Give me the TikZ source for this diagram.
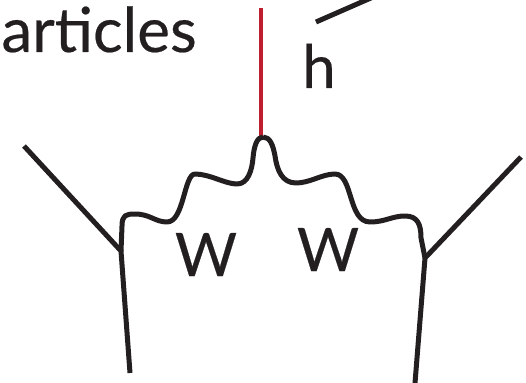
\documentclass[tikz,border=0pt]{standalone}
\usepackage{fontspec}
\setmainfont{Lato}[FakeBold=0.35]
\definecolor{ink}{HTML}{231F20}
\definecolor{hred}{HTML}{BE1E2D}
\begin{document}
\begin{tikzpicture}[x=1pt,y=-1pt,
  fermion/.style={draw=ink,line width=5pt},
  boson/.style={draw=ink,line width=5pt,line join=round},
  higgs/.style={draw=hred,line width=4.5pt},
  lbl/.style={inner sep=0pt,text=ink,font=\fontsize{60}{60}\selectfont}]
\useasboundingbox (0,0) rectangle (526,382);
\clip (0,0) rectangle (526,382);
% coordinates
\coordinate (vL) at (121,251);
\coordinate (vR) at (425,258);
\coordinate (vH) at (263,137);
\coordinate (hTop) at (261,8);
\coordinate (hBot) at (261,138);
\coordinate (qL1) at (24,146);
\coordinate (qL2) at (130,373);
\coordinate (qR1) at (521,157);
\coordinate (qR2) at (415,383);
\coordinate (tA) at (316,22);
\coordinate (tB) at (380,-6);
% text
\node[lbl,anchor=base east,font=\fontsize{62}{62}\selectfont] (title) at (197,52) {articles};
\node[lbl,anchor=base] (hlab) at (319,88) {h};
\node[lbl,anchor=base] (w1) at (206,276) {W};
\node[lbl,anchor=base] (w2) at (328,271) {W};
% fermion lines
\draw[fermion] (qL1) -- (vL) -- (qL2);
\draw[fermion] (qR1) -- (vR) -- (qR2);
\draw[fermion] (tA) -- (tB);
% higgs
\draw[higgs] (hTop) -- (hBot);
% W bosons
\draw[boson] (vL) -- (122,226) .. controls (122,215) and (126,214) .. (135,214)
  .. controls (150,214) and (155,222) .. (167,222)
  .. controls (184,222) and (184,174) .. (195,174)
  .. controls (210,174) and (225,184) .. (237,184)
  .. controls (248,184) and (252,170) .. (253,158)
  .. controls (254,146) and (257,137) .. (vH);
\draw[boson] (vH) .. controls (270,137) and (273,145) .. (275,156)
  .. controls (277,170) and (282,183) .. (296,183)
  .. controls (310,183) and (322,174) .. (335,174)
  .. controls (353,174) and (348,222) .. (370,222)
  .. controls (385,222) and (392,216) .. (405,216)
  .. controls (418,216) and (421,225) .. (421,238) -- (vR);
\end{tikzpicture}
\end{document}
